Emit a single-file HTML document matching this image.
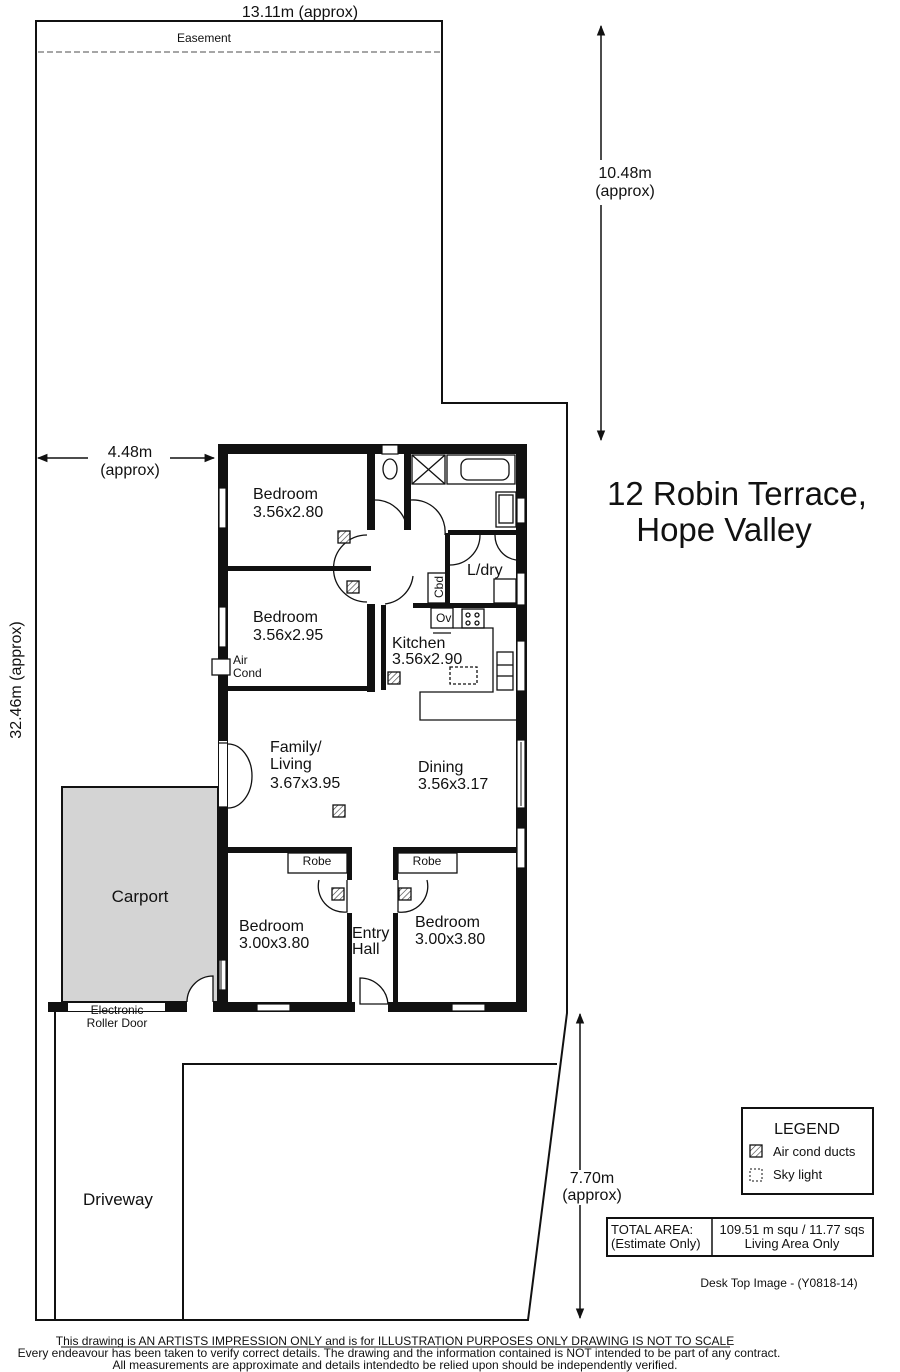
<!DOCTYPE html>
<html><head><meta charset="utf-8"><style>
html,body{margin:0;padding:0;background:#fff}
svg{display:block}
text{font-family:"Liberation Sans",sans-serif;fill:#111}
</style></head><body>
<svg width="900" height="1372" viewBox="0 0 900 1372" xmlns="http://www.w3.org/2000/svg">
<defs>
<marker id="ar" viewBox="0 0 10 10" refX="9" refY="5" markerWidth="7" markerHeight="7" orient="auto-start-reverse"><path d="M0,1 L10,5 L0,9 Z" fill="#111"/></marker>
<pattern id="hat" width="4" height="4" patternUnits="userSpaceOnUse" patternTransform="rotate(45)"><rect width="4" height="4" fill="#fff"/><line x1="0" y1="0" x2="0" y2="4" stroke="#333" stroke-width="1.2"/></pattern>
</defs>
<g fill="none" stroke="#111" stroke-width="2">
<path d="M36,1320 L36,21 L442,21 L442,403 L567,403 L567,1013 L528,1320 Z"/>
<line x1="55" y1="1012" x2="55" y2="1320"/>
<path d="M183,1320 L183,1064 L557,1064"/>
</g>
<line x1="38" y1="52" x2="440" y2="52" stroke="#888" stroke-width="1.5" stroke-dasharray="6,3"/>
<g stroke="#111" stroke-width="1.5" fill="none">
<line x1="601" y1="26" x2="601" y2="160" marker-start="url(#ar)"/>
<line x1="601" y1="205" x2="601" y2="440" marker-end="url(#ar)"/>
<line x1="38" y1="458" x2="88" y2="458" marker-start="url(#ar)"/>
<line x1="170" y1="458" x2="214" y2="458" marker-end="url(#ar)"/>
<line x1="580" y1="1014" x2="580" y2="1170" marker-start="url(#ar)"/>
<line x1="580" y1="1205" x2="580" y2="1318" marker-end="url(#ar)"/>
</g>
<text x="300" y="17" font-size="16" text-anchor="middle">13.11m (approx)</text>
<text x="204" y="42" font-size="12" text-anchor="middle">Easement</text>
<text x="625" y="178" font-size="16" text-anchor="middle">10.48m</text>
<text x="625" y="196" font-size="16" text-anchor="middle">(approx)</text>
<text x="130" y="457" font-size="16" text-anchor="middle">4.48m</text>
<text x="130" y="475" font-size="16" text-anchor="middle">(approx)</text>
<text x="0" y="0" font-size="16" text-anchor="middle" transform="translate(21,680) rotate(-90)">32.46m (approx)</text>
<text x="592" y="1183" font-size="16" text-anchor="middle">7.70m</text>
<text x="592" y="1200" font-size="16" text-anchor="middle">(approx)</text>
<text x="737" y="505" font-size="33" text-anchor="middle">12 Robin Terrace,</text>
<text x="724" y="541" font-size="33" text-anchor="middle">Hope Valley</text>

<rect x="62" y="787" width="156" height="215" fill="#d4d4d4" stroke="#111" stroke-width="2"/>
<text x="140" y="902" font-size="17" text-anchor="middle">Carport</text>

<g fill="#111">
<rect x="218" y="444" width="309" height="10"/>
<rect x="218" y="444" width="10" height="568"/>
<rect x="516" y="444" width="11" height="568"/>
<rect x="48" y="1002" width="479" height="10"/>
<rect x="226" y="566" width="145" height="5"/>
<rect x="367" y="454" width="8" height="76"/>
<rect x="367" y="604" width="8" height="88"/>
<rect x="226" y="686" width="145" height="5"/>
<rect x="404" y="454" width="7" height="76"/>
<rect x="448" y="530" width="68" height="5"/>
<rect x="445" y="533" width="5" height="70"/>
<rect x="413" y="603" width="103" height="5"/>
<rect x="381" y="605" width="5" height="85"/>
<rect x="228" y="847" width="122" height="6"/>
<rect x="393" y="847" width="130" height="6"/>
<rect x="347" y="847" width="5" height="33"/>
<rect x="347" y="913" width="5" height="90"/>
<rect x="393" y="847" width="5" height="33"/>
<rect x="393" y="913" width="5" height="90"/>
</g>
<g fill="#fff" stroke="#111" stroke-width="1.2">
<rect x="68" y="1003" width="97" height="8" stroke="none"/>
<rect x="187" y="1002" width="26" height="10" stroke="none"/>
<rect x="355" y="1002" width="33" height="10" stroke="none"/>
<rect x="257" y="1004" width="33" height="7"/>
<rect x="452" y="1004" width="33" height="7"/>
<rect x="219" y="488" width="7" height="40"/>
<rect x="219" y="607" width="7" height="40"/>
<rect x="219" y="741" width="8" height="66" stroke="none"/>
<rect x="219" y="960" width="7" height="30"/>
<rect x="517" y="498" width="8" height="25"/>
<rect x="517" y="573" width="8" height="32"/>
<rect x="517" y="641" width="8" height="50"/>
<rect x="517" y="740" width="8" height="68"/>
<rect x="517" y="828" width="8" height="40"/>
<rect x="382" y="445" width="16" height="9"/>
</g>
<line x1="521" y1="742" x2="521" y2="806" stroke="#111" stroke-width="1"/>
<line x1="221" y1="950" x2="221" y2="1000" stroke="#111" stroke-width="1"/>
<g fill="none" stroke="#111" stroke-width="1.3">
<ellipse cx="390" cy="469" rx="7" ry="10"/>
<rect x="412" y="455" width="33" height="29"/><path d="M412,455 L445,484 M445,455 L412,484"/>
<rect x="447" y="455" width="68" height="29"/><rect x="461" y="459" width="48" height="21" rx="7"/>
<rect x="496" y="492" width="20" height="35"/><rect x="499" y="495" width="14" height="28"/>
<rect x="494" y="579" width="22" height="24"/>
<rect x="428" y="573" width="18" height="30"/>
<rect x="431" y="608" width="22" height="20"/>
<rect x="462" y="609" width="22" height="19"/>
<circle cx="468" cy="615" r="2"/><circle cx="477" cy="615" r="2"/><circle cx="468" cy="623" r="2"/><circle cx="477" cy="623" r="2"/>
<line x1="433" y1="633" x2="451" y2="633"/>
<path d="M453,628 L493,628 L493,692 L420,692 L420,720 L516,720"/>
<rect x="497" y="652" width="16" height="38"/><line x1="497" y1="665" x2="513" y2="665"/><line x1="497" y1="676" x2="513" y2="676"/>
<rect x="450" y="667" width="27" height="17" stroke-dasharray="3,2"/>
<path d="M375,500 A32,32 0 0 1 407,530"/><path d="M411,500 A32,32 0 0 1 445,535"/>
<path d="M367,535 A32,32 0 0 0 367,602"/>
<path d="M385,604 A32,32 0 0 0 413,576"/>
<path d="M480,535 A30,30 0 0 1 450,565"/><path d="M495,535 A25,25 0 0 0 516,560"/>
<path d="M219,743 L228,743 M219,807 L228,807"/>
<path d="M228,744 A24,32 0 0 1 252,776"/><path d="M252,776 A24,32 0 0 1 228,808"/>
<path d="M319,880 A26,26 0 0 0 347,912 L347,880"/>
<path d="M427,880 A26,26 0 0 1 398,912 L398,880"/>
<path d="M360,978 A28,28 0 0 1 388,1004 L360,1004 Z" fill="#fff"/>
<path d="M187,1002 A26,26 0 0 1 213,976 L213,1002" fill="#fff"/>
<rect x="288" y="853" width="59" height="20"/><rect x="398" y="853" width="59" height="20"/>
<rect x="212" y="659" width="18" height="16" fill="#fff"/>
</g>
<g fill="url(#hat)" stroke="#111" stroke-width="1.3">
<rect x="338" y="531" width="12" height="12"/>
<rect x="347" y="581" width="12" height="12"/>
<rect x="388" y="672" width="12" height="12"/>
<rect x="333" y="805" width="12" height="12"/>
<rect x="332" y="888" width="12" height="12"/>
<rect x="399" y="888" width="12" height="12"/>
<rect x="750" y="1145" width="12" height="12"/>
</g>
<g font-size="16">
<text x="253" y="499">Bedroom</text><text x="253" y="517">3.56x2.80</text>
<text x="253" y="622">Bedroom</text><text x="253" y="640">3.56x2.95</text>
<text x="392" y="648">Kitchen</text><text x="392" y="664">3.56x2.90</text>
<text x="467" y="575">L/dry</text>
<text x="270" y="752">Family/</text><text x="270" y="769">Living</text><text x="270" y="788">3.67x3.95</text>
<text x="418" y="772">Dining</text><text x="418" y="789">3.56x3.17</text>
<text x="239" y="931">Bedroom</text><text x="239" y="948">3.00x3.80</text>
<text x="415" y="927">Bedroom</text><text x="415" y="944">3.00x3.80</text>
<text x="352" y="938">Entry</text><text x="352" y="954">Hall</text>
<text x="83" y="1205" font-size="17">Driveway</text>
</g>
<g font-size="12">
<text x="233" y="664">Air</text><text x="233" y="677">Cond</text>
<text x="436" y="622">Ov</text>
<text x="443" y="598" transform="rotate(-90 443 598)">Cbd</text>
<text x="317" y="865" text-anchor="middle">Robe</text>
<text x="427" y="865" text-anchor="middle">Robe</text>
<text x="117" y="1014" text-anchor="middle">Electronic</text>
<text x="117" y="1027" text-anchor="middle">Roller Door</text>
</g>
<rect x="742" y="1108" width="131" height="86" fill="none" stroke="#111" stroke-width="2"/>
<text x="807" y="1134" font-size="16" text-anchor="middle">LEGEND</text>
<text x="773" y="1156" font-size="13">Air cond ducts</text>
<rect x="750" y="1169" width="12" height="12" fill="none" stroke="#111" stroke-dasharray="2,2"/>
<text x="773" y="1179" font-size="13">Sky light</text>
<rect x="607" y="1218" width="266" height="38" fill="none" stroke="#111" stroke-width="2"/>
<line x1="712" y1="1218" x2="712" y2="1256" stroke="#111" stroke-width="1.5"/>
<text x="611" y="1234" font-size="13">TOTAL AREA:</text>
<text x="611" y="1248" font-size="13">(Estimate Only)</text>
<text x="792" y="1234" font-size="13" text-anchor="middle">109.51 m squ /  11.77 sqs</text>
<text x="792" y="1248" font-size="13" text-anchor="middle">Living Area Only</text>
<text x="779" y="1287" font-size="12" text-anchor="middle">Desk Top Image - (Y0818-14)</text>
<g font-size="12" text-anchor="middle">
<text x="395" y="1345">This drawing is AN ARTISTS IMPRESSION ONLY and is for ILLUSTRATION PURPOSES ONLY DRAWING IS NOT TO SCALE</text>
<line x1="61" y1="1347" x2="730" y2="1347" stroke="#111" stroke-width="1"/>
<text x="399" y="1357">Every endeavour has been taken to verify correct details. The drawing and the information contained is NOT intended to be part of any contract.</text>
<text x="395" y="1369">All measurements are approximate and details intendedto be relied upon should be independently verified.</text>
</g>
</svg>
</body></html>
